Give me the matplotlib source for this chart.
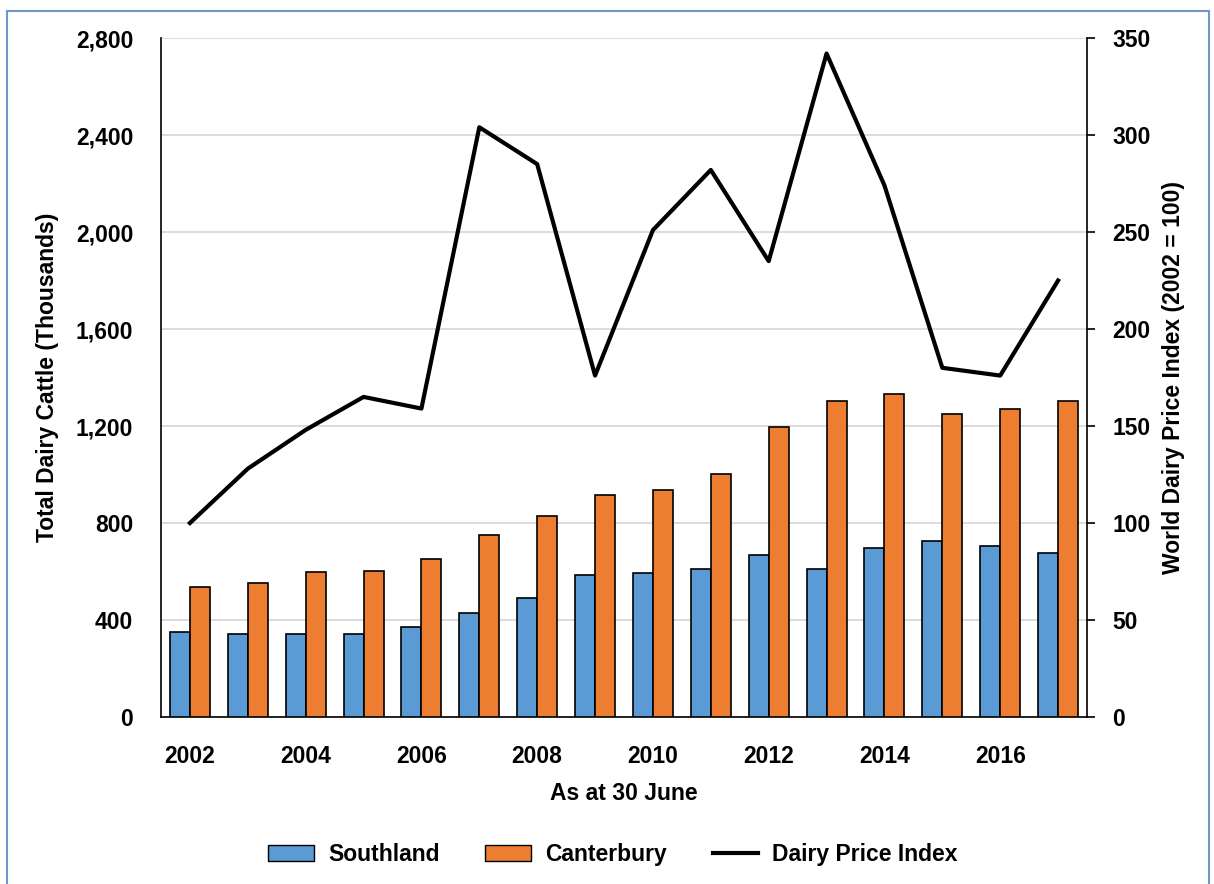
import numpy as np
import matplotlib
matplotlib.use("Agg")
import matplotlib.pyplot as plt
from matplotlib.patches import Rectangle
from matplotlib.lines import Line2D
from matplotlib.ticker import FuncFormatter

plt.rcParams['font.family'] = ['Liberation Sans', 'DejaVu Sans']
plt.rcParams['font.weight'] = 'bold'

years = list(range(2002, 2018))
southland = [350, 343, 344, 343, 372, 429, 492, 587, 595, 612, 668, 612, 698, 727, 706, 677]
canterbury = [537, 554, 597, 602, 653, 752, 829, 914, 936, 1003, 1197, 1302, 1330, 1251, 1269, 1304]
price_index = [100, 128, 148, 165, 159, 304, 285, 176, 251, 282, 235, 342, 274, 180, 176, 225]

blue = '#5b9bd5'
orange = '#ed7d31'
fs = 16.5

fig = plt.figure(figsize=(12.14, 8.84), dpi=100)
ax = fig.add_axes([0.1326, 0.1889, 0.7628, 0.7681])
x = np.arange(len(years))
w = 0.345
ax.bar(x - w / 2, southland, w, color=blue, edgecolor='black', linewidth=1.2, label='Southland', zorder=3)
ax.bar(x + w / 2, canterbury, w, color=orange, edgecolor='black', linewidth=1.2, label='Canterbury', zorder=3)
ax.set_xlim(-0.5, len(years) - 0.5)
ax.set_ylim(0, 2800)
ax.set_yticks(range(0, 2801, 400))
ax.yaxis.set_major_formatter(FuncFormatter(lambda v, p: f'{int(v):,}'))
ax.grid(axis='y', color='#d9d9d9', linewidth=1.3, zorder=0)
ax.set_xticks(x[::2])
ax.set_xticklabels([str(y) for y in years[::2]])
ax.tick_params(axis='x', length=0, pad=20, labelsize=fs)
ax.tick_params(axis='y', length=0, labelsize=fs, pad=20)
ax.spines['top'].set_visible(False)
ax.spines['right'].set_visible(False)
ax.spines['left'].set_linewidth(1.2)
ax.spines['bottom'].set_linewidth(1.2)
ax.set_ylabel('Total Dairy Cattle (Thousands)', fontsize=fs, fontweight='bold', labelpad=12)
ax.set_xlabel('As at 30 June', fontsize=fs, fontweight='bold', labelpad=10)

ax2 = ax.twinx()
ax2.plot(x, price_index, color='black', linewidth=3, zorder=4)
ax2.set_ylim(0, 350)
ax2.set_yticks(range(0, 351, 50))
ax2.tick_params(axis='y', length=6, width=1.2, direction='out', labelsize=fs, pad=12)
ax2.spines['top'].set_visible(False)
ax2.spines['left'].set_visible(False)
ax2.spines['bottom'].set_visible(False)
ax2.spines['right'].set_linewidth(1.2)
ax2.set_ylabel('World Dairy Price Index (2002 = 100)', fontsize=fs, fontweight='bold', labelpad=8)

handles = [Rectangle((0, 0), 1, 1, facecolor=blue, edgecolor='black'),
           Rectangle((0, 0), 1, 1, facecolor=orange, edgecolor='black'),
           Line2D([0], [0], color='black', linewidth=3)]
fig.legend(handles, ['Southland', 'Canterbury', 'Dairy Price Index'], loc='center',
           bbox_to_anchor=(0.505, 0.033), ncol=3, frameon=False, fontsize=fs,
           handlelength=2.0, handletextpad=0.6, columnspacing=2.0)

fig.patches.append(Rectangle((0.006, -0.01), 0.99, 0.998, transform=fig.transFigure,
                             fill=False, edgecolor='#6f95c9', linewidth=1.5))

fig.savefig('out.png', dpi=100)
